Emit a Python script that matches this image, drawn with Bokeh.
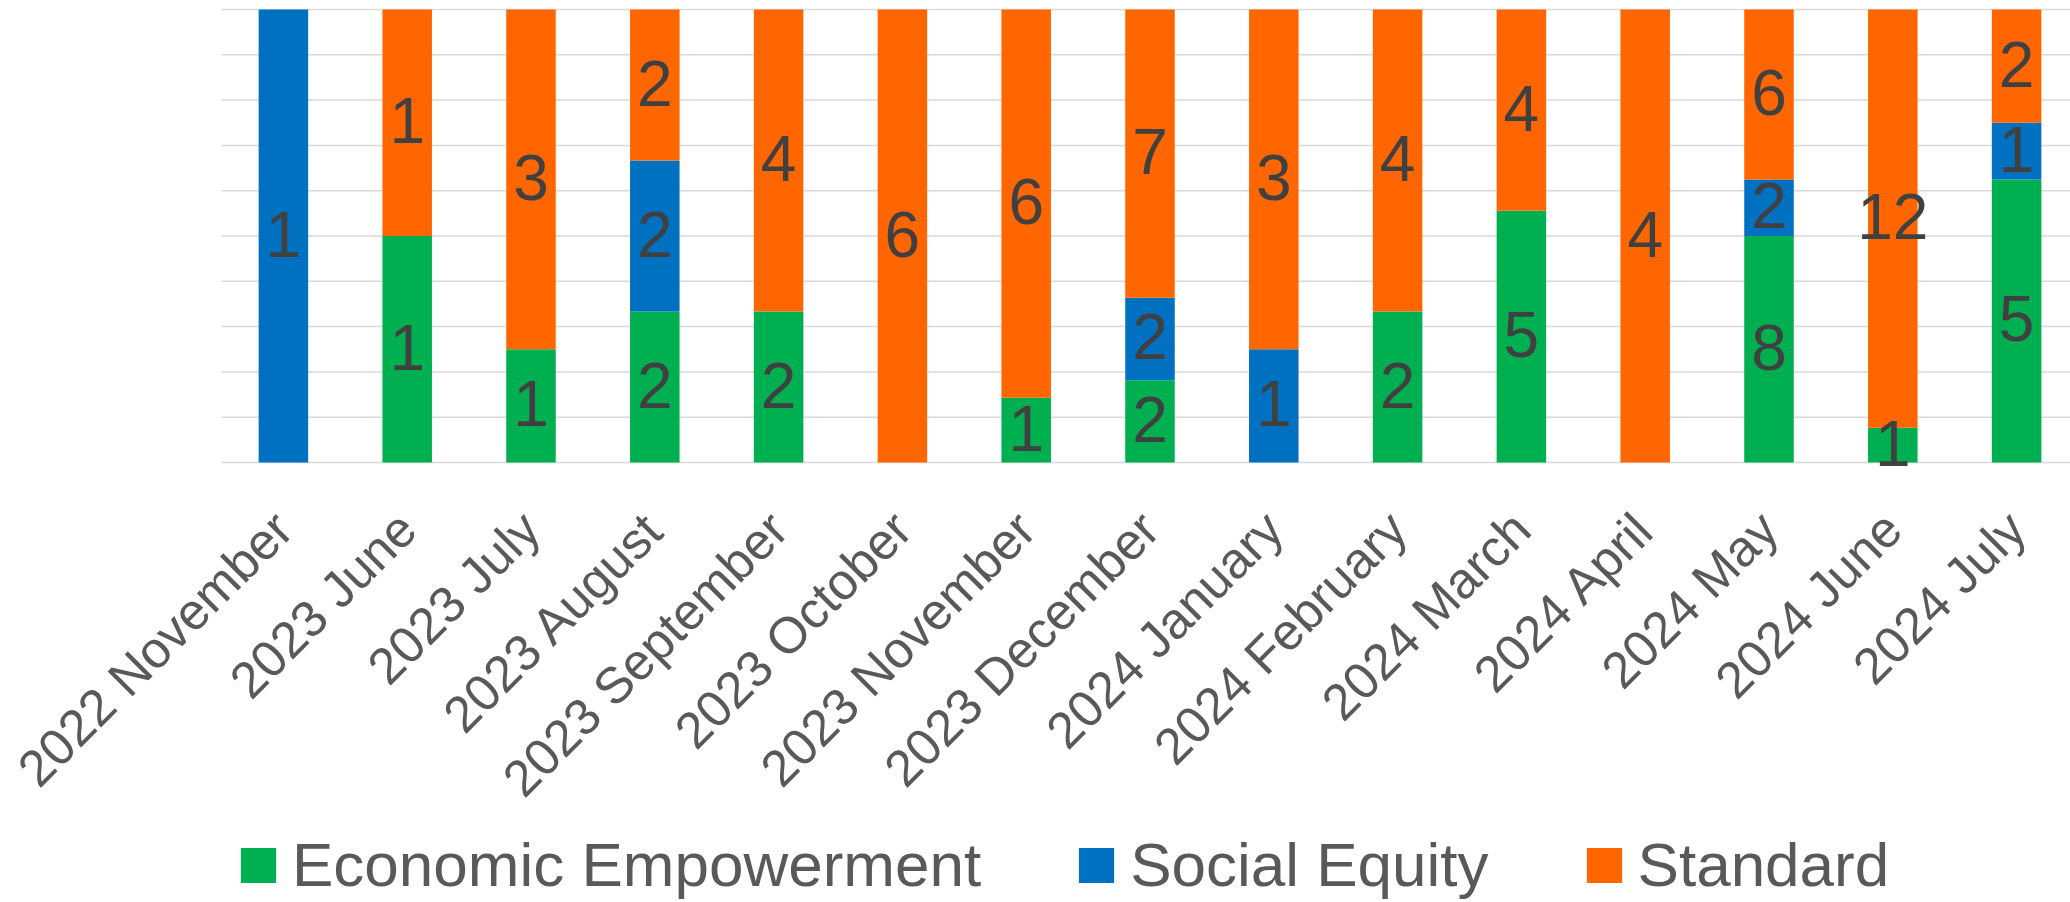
import math
from bokeh.plotting import figure
from bokeh.models import ColumnDataSource, Range1d, Legend, LegendItem
from bokeh.core.properties import value
from bokeh.embed import file_html
from bokeh.resources import INLINE

categories = ["2022 November", "2023 June", "2023 July", "2023 August", "2023 September",
              "2023 October", "2023 November", "2023 December", "2024 January", "2024 February",
              "2024 March", "2024 April", "2024 May", "2024 June", "2024 July"]
economic = [0, 1, 1, 2, 2, 0, 1, 2, 0, 2, 5, 0, 8, 1, 5]
social = [1, 0, 0, 2, 0, 0, 0, 2, 1, 0, 0, 0, 2, 0, 1]
standard = [0, 1, 3, 2, 4, 6, 6, 7, 3, 4, 4, 4, 6, 12, 2]
series_names = ["Economic Empowerment", "Social Equity", "Standard"]
colors = ["#00B050", "#0070C0", "#FF6600"]
grid_ticks = [i / 10 for i in range(11)]

FONT = "Liberation Sans"
n = len(categories)
xs = list(range(n))
series = [economic, social, standard]
totals = [sum(v) for v in zip(*series)]
fracs = [[v / t for v, t in zip(s, totals)] for s in series]

src = ColumnDataSource(dict(x=xs, s0=fracs[0], s1=fracs[1], s2=fracs[2]))

# data label positions (segment centres)
lx, ly, lt = [], [], []
bottoms = [0.0] * n
for s, f in zip(series, fracs):
    for i in range(n):
        if s[i] > 0:
            lx.append(xs[i])
            ly.append(bottoms[i] + f[i] / 2)
            lt.append(str(s[i]))
        bottoms[i] += f[i]
lab_src = ColumnDataSource(dict(x=lx, y=ly, text=lt))
cat_src = ColumnDataSource(dict(x=xs, y=[0] * n, text=categories))

# layout (pixels): plot area starts 221 px from the left, 123.8 px per category, 453 px per 100 %
W, H, TOP = 2070, 892, 8
LEFT_PAD, UNIT, PY = 221.0, 123.8, 453.0
x0 = -0.5 - LEFT_PAD / UNIT
x1 = x0 + W / UNIT
y1 = 1 + 1 / PY
y0 = y1 - H / PY

p = figure(frame_width=W, frame_height=H, output_backend="svg", toolbar_location=None,
           x_range=Range1d(x0, x1), y_range=Range1d(y0, y1),
           min_border_left=0, min_border_right=0, min_border_top=TOP, min_border_bottom=0)
p.outline_line_color = None
p.background_fill_color = "white"
p.border_fill_color = "white"
p.xaxis.visible = False
p.yaxis.visible = False
p.xgrid.visible = False
p.ygrid.visible = False

# horizontal gridlines across the plot area only
p.segment(x0=[-0.5] * len(grid_ticks), x1=[x1] * len(grid_ticks), y0=grid_ticks, y1=grid_ticks,
          line_color="#D9D9D9", line_width=1.5)

rs = p.vbar_stack(["s0", "s1", "s2"], x="x", width=0.4, color=colors, line_color=None, source=src)

p.text(x="x", y="y", text="text", source=lab_src, text_align="center", text_baseline="middle",
       y_offset=-2, text_font=value(FONT), text_font_size=value("64px"), text_color="#404040")

# category labels, rotated 45 degrees
p.text(x="x", y="y", text="text", source=cat_src, angle=math.pi / 4,
       text_align="right", text_baseline="alphabetic", x_offset=0, y_offset=58,
       text_font=value(FONT), text_font_size=value("51px"), text_color="#595959")

legend = Legend(items=[LegendItem(label=nm, renderers=[r]) for nm, r in zip(series_names, rs)],
                orientation="horizontal", location=(236, 0),
                label_text_font=FONT, label_text_font_size="62px", label_text_color="#595959",
                glyph_width=44, glyph_height=44, label_standoff=12, spacing=93,
                padding=0, margin=0, border_line_color=None, background_fill_alpha=0,
                label_height=44)
p.add_layout(legend, "center")

open("out.html", "w").write(file_html(p, INLINE))
